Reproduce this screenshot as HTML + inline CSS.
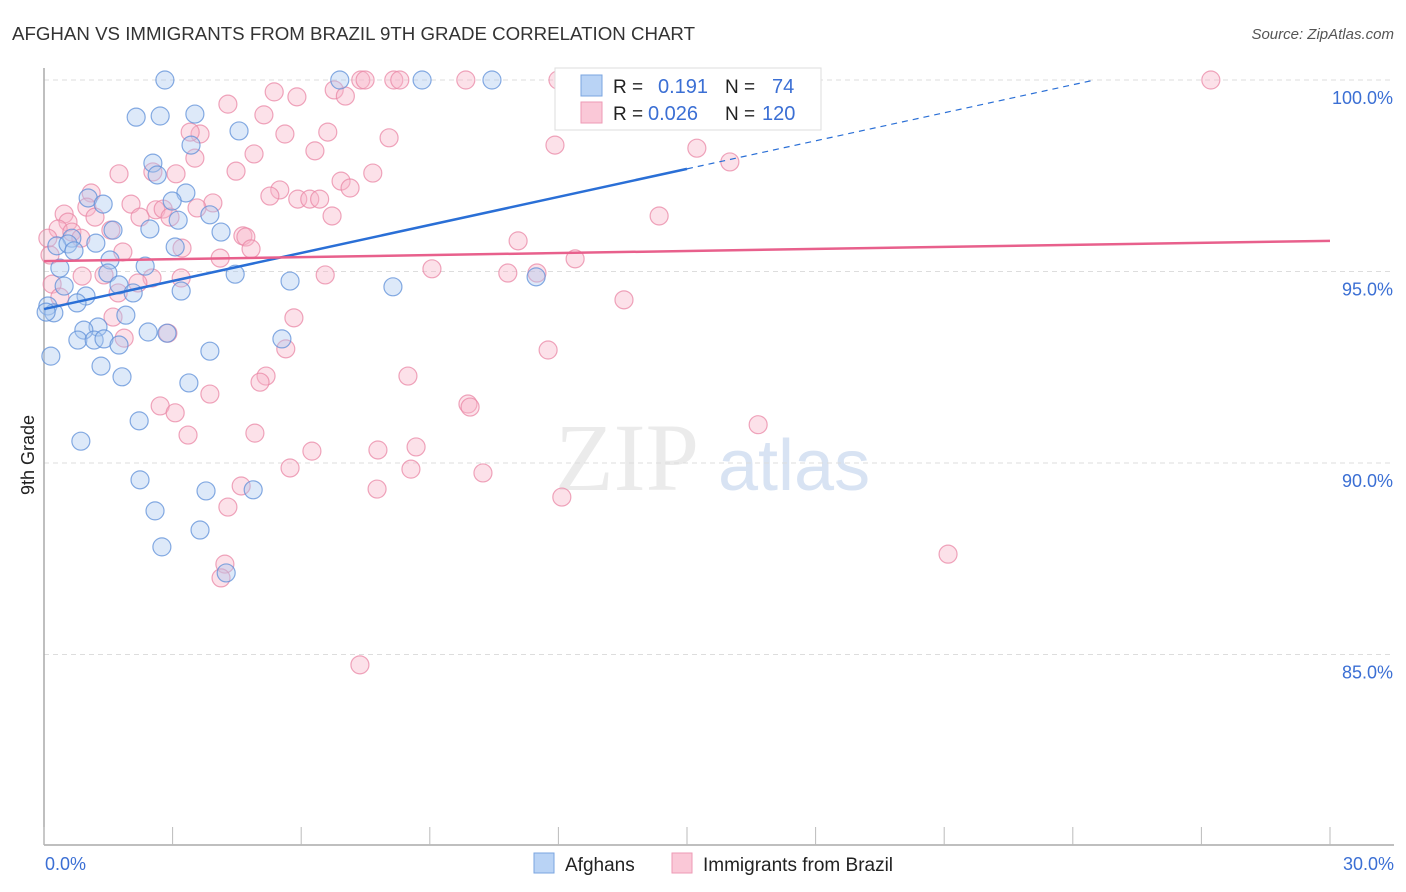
<!DOCTYPE html>
<html><head><meta charset="utf-8"><style>
body{margin:0;background:#fff;font-family:"Liberation Sans",sans-serif;}
svg{display:block}
</style></head><body>
<svg id="chart" width="1406" height="892" xmlns="http://www.w3.org/2000/svg">
<text x="12" y="40" font-size="18" fill="#333" textLength="683" lengthAdjust="spacingAndGlyphs">AFGHAN VS IMMIGRANTS FROM BRAZIL 9TH GRADE CORRELATION CHART</text>
<text x="1394" y="39" font-size="15" fill="#555" font-style="italic" text-anchor="end">Source: ZipAtlas.com</text>
<g><text x="555" y="490" font-size="96" font-family="Liberation Serif,serif" fill="#ebebeb">ZIP</text><text x="718" y="490" font-size="72" fill="#d8e3f3">atlas</text></g>
<g id="grid"></g>
<g id="axes"></g>
<text transform="translate(34,455) rotate(-90)" font-size="18" fill="#222" text-anchor="middle">9th Grade</text>
<g id="points"></g>
<g id="lines"></g>
<g>
<rect x="555" y="68" width="266" height="62" fill="#fff" stroke="#ddd"/>
<rect x="581" y="75" width="21" height="21" fill="#b9d3f5" stroke="#7aa5e0"/>
<rect x="581" y="102" width="21" height="21" fill="#fac8d7" stroke="#ee9ab4"/>
<text x="613" y="93" font-size="19" fill="#222">R = </text><text x="658" y="93" font-size="20" fill="#3b6fd4">0.191</text>
<text x="725" y="93" font-size="19" fill="#222">N = </text><text x="772" y="93" font-size="20" fill="#3b6fd4">74</text>
<text x="613" y="120" font-size="19" fill="#222">R = </text><text x="648" y="120" font-size="20" fill="#3b6fd4">0.026</text>
<text x="725" y="120" font-size="19" fill="#222">N = </text><text x="762" y="120" font-size="20" fill="#3b6fd4">120</text>
</g>
<g>
<rect x="534" y="853" width="20" height="20" fill="#b9d3f5" stroke="#7aa5e0"/>
<text x="565" y="871" font-size="19" fill="#222">Afghans</text>
<rect x="672" y="853" width="20" height="20" fill="#fac8d7" stroke="#ee9ab4"/>
<text x="703" y="871" font-size="19" fill="#222">Immigrants from Brazil</text>
</g>
</svg>
<script>
const xTicks=[0,3,6,9,12,15,18,21,24,27,30];
const yTicks=[85,90,95,100];
const yTickLabels=["85.0%","90.0%","95.0%","100.0%"];
const afghanX=[2.82,6.90,8.82,10.45,2.15,2.71,3.52,4.55,3.43,2.54,2.64,3.31,2.99,1.03,1.38,3.87,3.13,2.47,1.61,4.13,0.65,0.30,0.56,0.70,1.21,3.06,1.54,0.37,2.36,1.49,4.46,5.74,8.14,11.48,0.47,1.75,2.08,3.20,0.98,0.77,0.09,0.23,1.91,1.26,0.93,2.43,2.87,0.79,1.17,1.40,1.75,5.55,0.16,3.87,1.33,1.82,3.38,2.22,0.86,2.24,3.78,4.88,2.59,3.64,2.75,4.25,0.05];
const afghanY=[100,100,100,100,99.03,99.06,99.11,98.67,98.30,97.83,97.52,97.05,96.84,96.92,96.76,96.48,96.34,96.11,96.08,96.03,95.87,95.67,95.72,95.54,95.74,95.64,95.30,95.09,95.14,94.96,94.93,94.75,94.60,94.86,94.62,94.65,94.44,94.49,94.36,94.18,94.10,93.92,93.86,93.55,93.47,93.42,93.39,93.21,93.21,93.24,93.08,93.24,92.79,92.92,92.53,92.25,92.09,91.10,90.57,89.56,89.27,89.30,88.75,88.25,87.81,87.13,93.94];
const brazilX=[7.39,8.16,8.30,9.84,11.99,13.90,16.24,27.22,7.49,6.77,7.03,5.37,5.90,4.29,5.13,3.64,3.41,5.62,6.62,8.05,11.92,15.23,16.00,4.90,6.32,3.52,1.75,4.48,7.67,2.54,3.08,6.93,7.14,5.50,5.27,1.10,5.92,6.20,6.43,3.94,2.03,1.00,2.61,2.78,3.57,14.35,0.47,6.72,1.19,2.24,2.94,0.56,0.33,0.65,0.86,1.56,4.64,4.71,11.06,1.84,4.83,3.22,4.11,12.39,9.05,6.56,10.82,11.50,0.89,1.40,3.20,2.52,0.19,0.37,1.73,2.19,13.53,5.83,1.61,2.89,1.87,5.64,11.76,8.49,5.18,5.04,3.87,9.89,9.94,2.71,3.06,16.66,3.36,4.92,8.68,7.79,6.25,5.74,8.56,10.24,7.77,12.08,4.60,4.29,21.09,4.22,4.13,7.37,0.09,0.14];
const brazilY=[100,100,100,100,100,100,100,100,100,99.74,99.58,99.69,99.56,99.37,99.09,98.59,98.64,98.59,98.64,98.49,98.30,98.22,97.86,98.07,98.15,97.96,97.55,97.62,97.57,97.60,97.55,97.36,97.18,97.13,96.97,97.05,96.89,96.89,96.89,96.79,96.76,96.68,96.61,96.63,96.66,96.45,96.50,96.45,96.42,96.42,96.42,96.29,96.11,96.03,95.87,96.08,95.93,95.90,95.80,95.51,95.59,95.61,95.35,95.33,95.07,94.91,94.96,94.96,94.88,94.91,94.83,94.83,94.67,94.33,94.44,94.70,94.26,93.79,93.81,93.39,93.26,92.98,92.95,92.27,92.27,92.11,91.80,91.54,91.46,91.49,91.31,91.00,90.73,90.78,90.42,90.34,90.31,89.87,89.84,89.74,89.32,89.11,89.40,88.85,87.62,87.36,87.00,84.73,95.87,95.43];
const afghanFit=[94.02,0.244];
const brazilFit=[95.27,0.0177];
const NS="http://www.w3.org/2000/svg";
const sx=v=>44+v*(1330-44)/30;
const sy=v=>80+(100-v)*38.3;
function mk(tag,attrs,parent){const e=document.createElementNS(NS,tag);for(const k in attrs)e.setAttribute(k,attrs[k]);parent.appendChild(e);return e;}
const grid=document.getElementById('grid'),axes=document.getElementById('axes'),pts=document.getElementById('points'),lines=document.getElementById('lines');
yTicks.forEach((t,i)=>{
 const l=mk('line',{x1:44,x2:1394,y1:sy(t),y2:sy(t),stroke:'#ddd','stroke-dasharray':'5,4'},grid);
 
 
 const tx=mk('text',{x:1393,y:sy(t)+24,'font-size':18,fill:'#3b6fd4','text-anchor':'end'},axes);
 tx.textContent=yTickLabels[i];
 
 
});
const ya=mk('line',{x1:44,x2:44,y1:68,y2:845,stroke:'#aaa','stroke-width':1.5},axes);


const xa=mk('line',{x1:44,x2:1394,y1:845,y2:845,stroke:'#aaa','stroke-width':1.5},axes);


xTicks.forEach(t=>{
 const l=mk('line',{x1:sx(t),x2:sx(t),y1:827,y2:845,stroke:'#bbb'},axes);
 
 
});
const x0=mk('text',{x:45,y:870,'font-size':18,fill:'#3b6fd4'},axes);x0.textContent='0.0%';


const x1=mk('text',{x:1394,y:870,'font-size':18,fill:'#3b6fd4','text-anchor':'end'},axes);x1.textContent='30.0%';


function plot(xs,ys,fill,stroke,name){xs.forEach((x,i)=>{
 const c=mk('circle',{cx:sx(x),cy:sy(ys[i]),r:9,fill:fill,'fill-opacity':0.4,stroke:stroke,'stroke-width':1.2,'stroke-opacity':0.75},pts);
 
 
});}
plot(brazilX,brazilY,'#f7b3c8','#e987a6','brazil-point');
plot(afghanX,afghanY,'#a9c8f0','#5d8fd8','afghan-point');
const fa=v=>afghanFit[0]+afghanFit[1]*v, fb=v=>brazilFit[0]+brazilFit[1]*v;
const xEnd=(100-afghanFit[0])/afghanFit[1];
const la=mk('line',{x1:sx(0),y1:sy(fa(0)),x2:sx(15),y2:sy(fa(15)),stroke:'#2a6fd6','stroke-width':2.5},lines);


const ld=mk('line',{x1:sx(15),y1:sy(fa(15)),x2:sx(xEnd),y2:sy(100),stroke:'#2a6fd6','stroke-width':1.2,'stroke-dasharray':'6,5'},lines);


const lb=mk('line',{x1:sx(0),y1:sy(fb(0)),x2:sx(30),y2:sy(fb(30)),stroke:'#e8608c','stroke-width':2.5},lines);


</script>
</body></html>
